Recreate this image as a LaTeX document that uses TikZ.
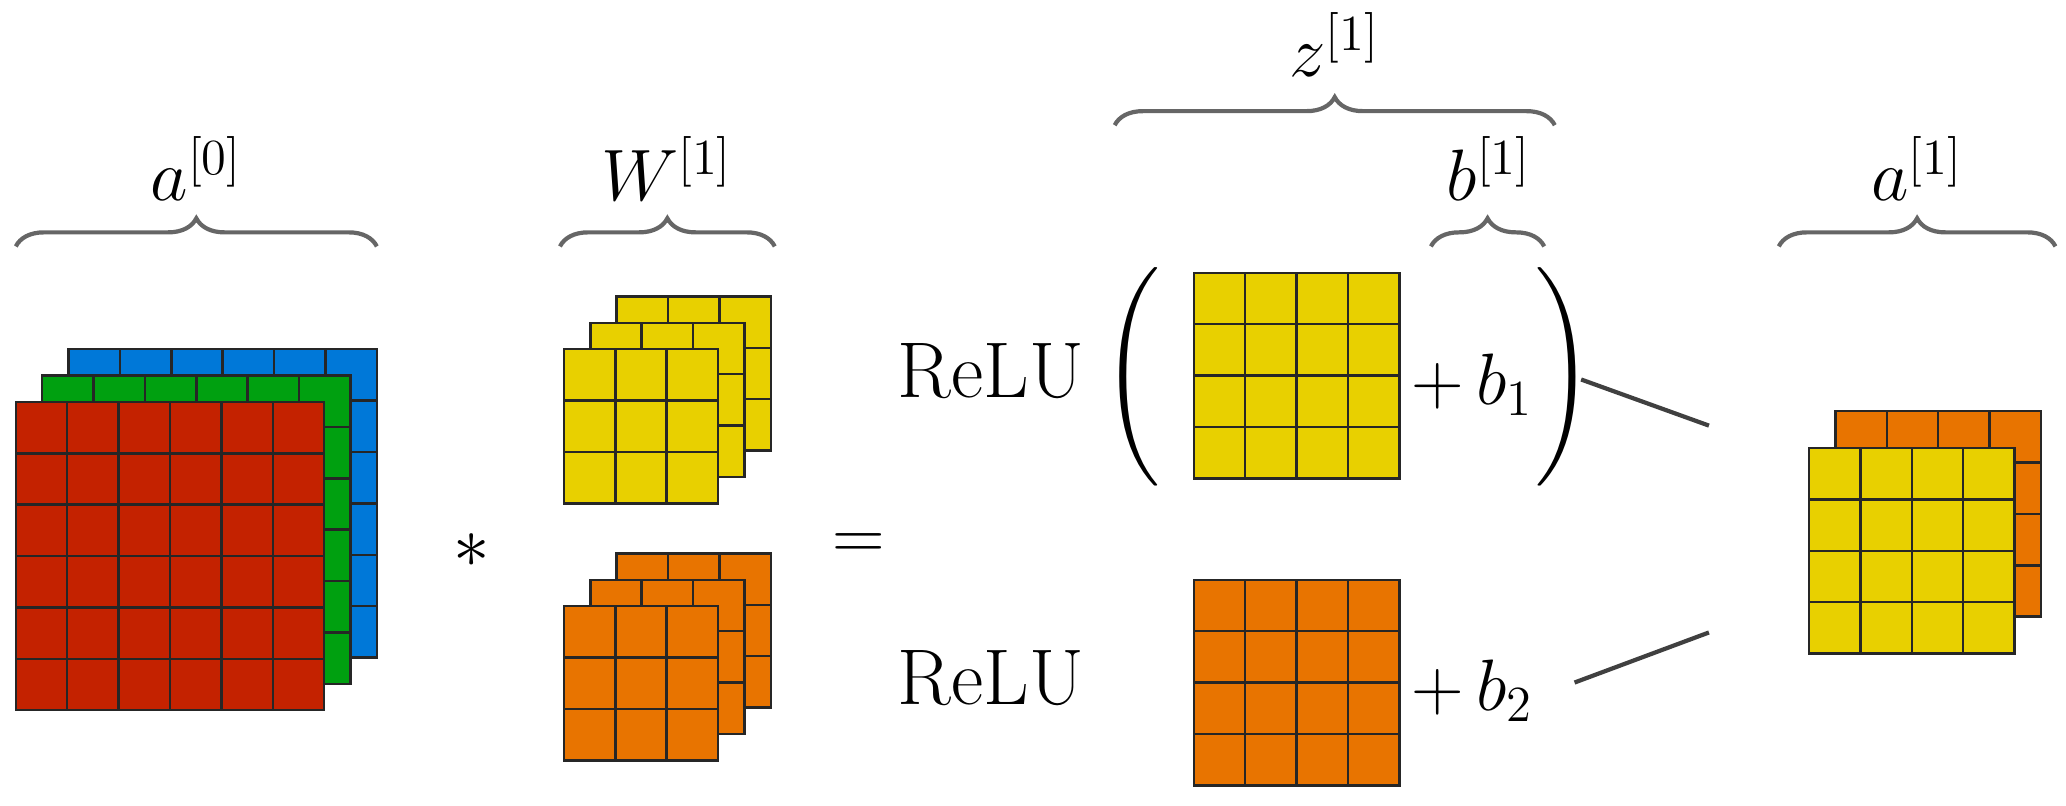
\documentclass[tikz,border=0pt]{standalone}
\usepackage{amsmath}
\usetikzlibrary{decorations.pathreplacing}
\definecolor{cRed}{HTML}{C42200}
\definecolor{cGreen}{HTML}{00A010}
\definecolor{cBlue}{HTML}{0078D8}
\definecolor{cYellow}{HTML}{E8D000}
\definecolor{cOrange}{HTML}{E87400}
% grid of 39-unit cells: x, y (top left), n, colour
\newcommand{\cellgrid}[4]{%
  \draw[cellLine,fill=#4] (#1,#2) rectangle ++(#3*39,#3*39);
  \foreach \k in {1,...,#3}{%
    \draw[cellLine] (#1+\k*39,#2) -- ++(0,#3*39);
    \draw[cellLine] (#1,#2+\k*39) -- ++(#3*39,0);
  }%
}
\begin{document}
\begin{tikzpicture}[x=0.013176cm,y=-0.013176cm]
\tikzset{cellLine/.style={draw=black!85,line width=0.7pt}}
\tikzset{myBrace/.style={draw=black!60,line width=1.2pt,decorate,decoration={brace,amplitude=8pt}}}
\tikzset{myFont/.style={font=\fontsize{22.5}{26}\selectfont}}
\useasboundingbox (0,0) rectangle (1568,611.7);

% input volume
\cellgrid{52}{265}{6}{cBlue}
\cellgrid{32}{285}{6}{cGreen}
\cellgrid{12}{305}{6}{cRed}

% filters
\cellgrid{468}{225}{3}{cYellow}
\cellgrid{448}{245}{3}{cYellow}
\cellgrid{428}{265}{3}{cYellow}
\cellgrid{468}{420}{3}{cOrange}
\cellgrid{448}{440}{3}{cOrange}
\cellgrid{428}{460}{3}{cOrange}

% conv outputs
\cellgrid{906}{207}{4}{cYellow}
\cellgrid{906}{440}{4}{cOrange}

% output volume
\cellgrid{1393}{312}{4}{cOrange}
\cellgrid{1373}{340}{4}{cYellow}

\node[myFont] (star) at (358,418) {$*$};
\node[myFont] (eq) at (652,415) {$=$};
\node[myFont,anchor=east] (relu1) at (832,282) {ReLU};
\node[myFont,anchor=east] (relu2) at (832,515) {ReLU};
\node[myFont] (lpar) at (860,286) {$\left(\vcenter{\hbox{\rule{0pt}{2.05cm}}}\right.$};
\node[myFont] (rpar) at (1186,286) {$\left.\vcenter{\hbox{\rule{0pt}{2.05cm}}}\right)$};
\node[myFont,anchor=west] (plusb1) at (1062,292) {$+\,b_1$};
\node[myFont,anchor=west] (plusb2) at (1062,524) {$+\,b_2$};

% braces
\coordinate (a0L) at (12,187);   \coordinate (a0R) at (286,187);
\coordinate (w1L) at (425,187);  \coordinate (w1R) at (588,187);
\coordinate (b1L) at (1086,187); \coordinate (b1R) at (1172,187);
\coordinate (z1L) at (846,95);   \coordinate (z1R) at (1180,95);
\coordinate (a1L) at (1350,187); \coordinate (a1R) at (1560,187);
\draw[myBrace] (a0L) -- (a0R);
\draw[myBrace] (w1L) -- (w1R);
\draw[myBrace] (b1L) -- (b1R);
\draw[myBrace] (z1L) -- (z1R);
\draw[myBrace] (a1L) -- (a1R);
\node[myFont] (a0) at (149,128) {$a^{[0]}$};
\node[myFont] (w1) at (506,128) {$W^{[1]}$};
\node[myFont] (b1) at (1130,128) {$b^{[1]}$};
\node[myFont] (z1) at (1013,34) {$z^{[1]}$};
\node[myFont] (a1) at (1455,128) {$a^{[1]}$};

% lines to output
\coordinate (e1) at (1297,323);
\coordinate (e2) at (1297,480);
\draw[black!75,line width=1.2pt] (1200,288) -- (e1);
\draw[black!75,line width=1.2pt] (1195,518) -- (e2);
\end{tikzpicture}
\end{document}
